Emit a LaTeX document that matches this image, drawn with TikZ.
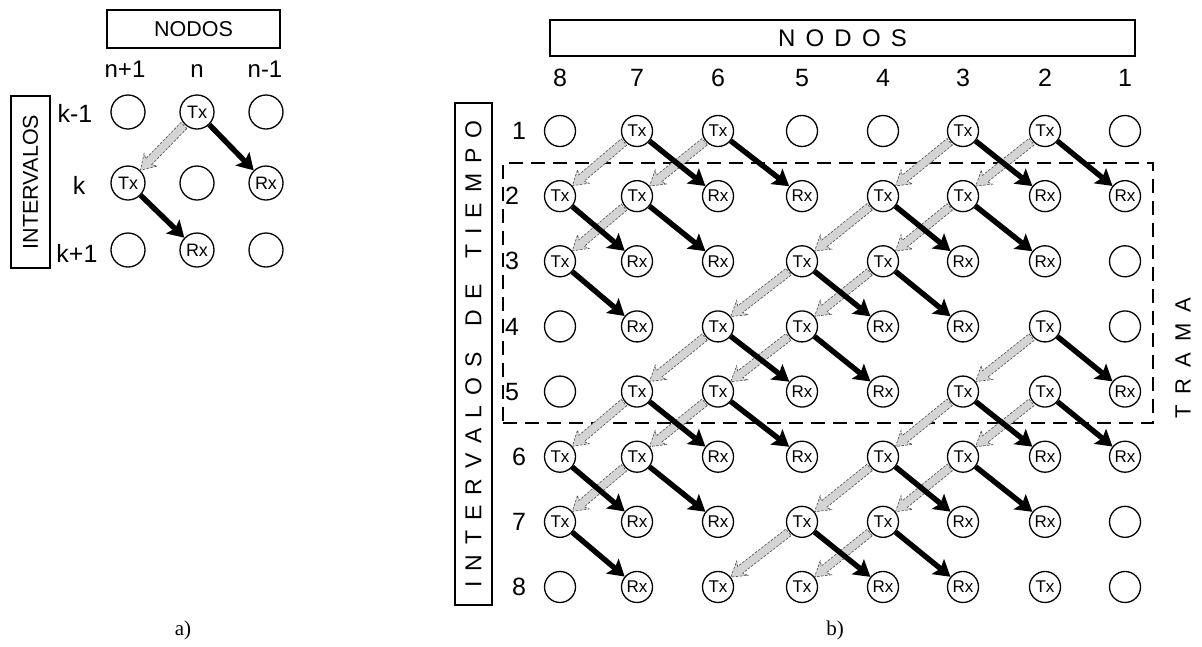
\documentclass[tikz,border=0pt]{standalone}
\usepackage{fontspec}
\setmainfont{Liberation Sans}
\newfontfamily\capserif{Liberation Serif}
\usetikzlibrary{arrows.meta,calc}

% letter-spaced text: \spread{ABC~DEF}, gap set by \lsgap
\newlength\lsgap
\def\spread#1{\spreadfirst#1\relax}
\def\spreadfirst#1{#1\spreadnext}
\def\spreadnext#1{\ifx#1\relax\else\hspace{\lsgap}#1\expandafter\spreadnext\fi}

\def\cellO{}
\def\cellT{Tx}
\def\cellR{Rx}

% grey relay arrow between two circular nodes: #1 source, #2 target, #3 radius
\newcommand\relayarrow[3]{%
  \path[relay] let \p1=($(#2)-(#1)$), \n1={atan2(\y1,\x1)}, \n2={veclen(\x1,\y1)} in
    [shift={(#1)}, rotate=\n1]
    ({#3+1pt}, {4.2pt}) -- ({\n2-#3-12pt}, {4.2pt}) -- ({\n2-#3-14.5pt}, {9pt})
    -- ({\n2-#3}, {0pt}) -- ({\n2-#3-14.5pt}, {-9pt}) -- ({\n2-#3-12pt}, {-4.2pt})
    -- ({#3+1pt}, {-4.2pt}) -- cycle;%
}

\tikzset{
  cell/.style={circle, draw, line width=1.3pt, minimum size=31pt, inner sep=0pt,
    font=\fontsize{17}{17}\selectfont},
  cella/.style={cell, minimum size=34pt, font=\fontsize{18}{18}\selectfont},
  frame/.style={draw, line width=1.2pt, inner sep=0pt},
  sendarrow/.style={line width=5.4pt, -{Stealth[length=16pt,width=19pt,inset=3pt]}},
  relay/.style={fill=black!17, draw=black!70, line width=0.6pt, dash pattern=on 2.5pt off 1.5pt},
  axislabel/.style={font=\fontsize{25}{25}\selectfont, inner sep=0pt},
  axislabela/.style={font=\fontsize{24}{24}\selectfont, inner sep=0pt, anchor=base},
  rowlabela/.style={font=\fontsize{25}{25}\selectfont, inner sep=0pt, anchor=base},
  caption/.style={font=\capserif\fontsize{21}{21}\selectfont, inner sep=0pt},
}

\begin{document}
\begin{tikzpicture}[x=1pt, y=-1pt]
\useasboundingbox (0,0) rectangle (1202,646);

%% ---------- a) ----------
\node[frame, minimum width=173pt, minimum height=38pt,
  font=\fontsize{21.5}{21.5}\selectfont] (anodos) at (193.5,29) {NODOS};
\node[frame, minimum width=172pt, minimum height=39pt, rotate=90,
  font=\fontsize{21.5}{21.5}\selectfont] (aint) at (30.5,182) {INTERVALOS};

\node[axislabela] (acol0) at (125,77) {n+1};
\node[axislabela] (acol1) at (197,77) {n};
\node[axislabela] (acol2) at (265,77) {n-1};

\node[rowlabela] (arow0) at (75,122) {k-1};
\node[rowlabela] (arow1) at (79,194) {k};
\node[rowlabela] (arow2) at (77,262) {k+1};

\node[cella] (a-0-0) at (128,112) {};
\node[cella] (a-0-1) at (197,112) {Tx};
\node[cella] (a-0-2) at (266,112) {};
\node[cella] (a-1-0) at (128,183) {Tx};
\node[cella] (a-1-1) at (197,183) {};
\node[cella] (a-1-2) at (266,183) {Rx};
\node[cella] (a-2-0) at (128,250) {};
\node[cella] (a-2-1) at (197,250) {Rx};
\node[cella] (a-2-2) at (266,250) {};

\relayarrow{a-0-1}{a-1-0}{17.8pt}
\draw[sendarrow] (a-0-1) -- (a-1-2);
\draw[sendarrow] (a-1-0) -- (a-2-1);

\node[caption] (capa) at (183,630) {a)};

%% ---------- b) ----------
\node[draw, line width=1.1pt, dash pattern=on 14pt off 8pt,
  minimum width=650pt, minimum height=260pt] (frameb) at (828,293) {};

\setlength\lsgap{10.2pt}
\node[frame, minimum width=585pt, minimum height=36pt,
  font=\fontsize{24}{24}\selectfont] (bnodos) at (842.5,38) {\spread{NODOS}};
\setlength\lsgap{9.9pt}
\node[frame, minimum width=502pt, minimum height=37pt, rotate=90,
  font=\fontsize{23}{23}\selectfont] (bint) at (473.5,354) {\spread{INTERVALOS~DE~TIEMPO}};
\setlength\lsgap{11pt}
\node[rotate=90, inner sep=0pt, font=\fontsize{22}{22}\selectfont] (btrama) at (1183,358) {\spread{TRAMA}};

\foreach \lab [count=\i from 0] in {8,7,6,5,4,3,2,1} {
  \pgfmathsetmacro\xx{{560,637,718,802,883,963,1045,1125}[\i]}
  \node[axislabel, anchor=base] (bcol-\i) at (\xx,86) {\lab};
}
\foreach \r in {1,...,8} {
  \pgfmathsetmacro\yy{131+65.14*(\r-1)}
  \pgfmathsetmacro\xl{(\r>1 && \r<6) ? 512 : 519}
  \node[axislabel] (brow-\r) at (\xl,\yy) {\r};
}

\foreach \r/\cells in {1/{O,T,T,O,O,T,T,O}, 2/{T,T,R,R,T,T,R,R},
                       3/{T,R,R,T,T,R,R,O}, 4/{O,R,T,T,R,R,T,O},
                       5/{O,T,T,R,R,T,T,R}, 6/{T,T,R,R,T,T,R,R},
                       7/{T,R,R,T,T,R,R,O}, 8/{O,R,T,T,R,R,T,O}} {
  \foreach \k [count=\i from 0] in \cells {
    \pgfmathsetmacro\xx{{560,637,718,802,883,963,1045,1125}[\i]}
    \pgfmathsetmacro\yy{131+65.14*(\r-1)}
    \node[cell] (b-\r-\i) at (\xx,\yy) {\csname cell\k\endcsname};
  }
}

% relayed copies: each transmitter hands the frame to the node on its left
\foreach \r/\i in {1/1,1/2,1/5,1/6,2/1,2/4,2/5,3/3,3/4,4/2,4/3,4/6,
                   5/1,5/2,5/5,5/6,6/1,6/4,6/5,7/3,7/4} {
  \pgfmathtruncatemacro\rn{\r+1}
  \pgfmathtruncatemacro\ip{\i-1}
  \relayarrow{b-\r-\i}{b-\rn-\ip}{16.1pt}
}

% transmissions to the receiver on the right in the next interval
\foreach \r/\i in {1/1,1/2,1/5,1/6,2/0,2/1,2/4,2/5,3/0,3/3,3/4,4/2,4/3,4/6,
                   5/1,5/2,5/5,5/6,6/0,6/1,6/4,6/5,7/0,7/3,7/4} {
  \pgfmathtruncatemacro\rn{\r+1}
  \pgfmathtruncatemacro\ix{\i+1}
  \draw[sendarrow] (b-\r-\i) -- (b-\rn-\ix);
}

\node[caption] (capb) at (835,630) {b)};
\end{tikzpicture}
\end{document}
